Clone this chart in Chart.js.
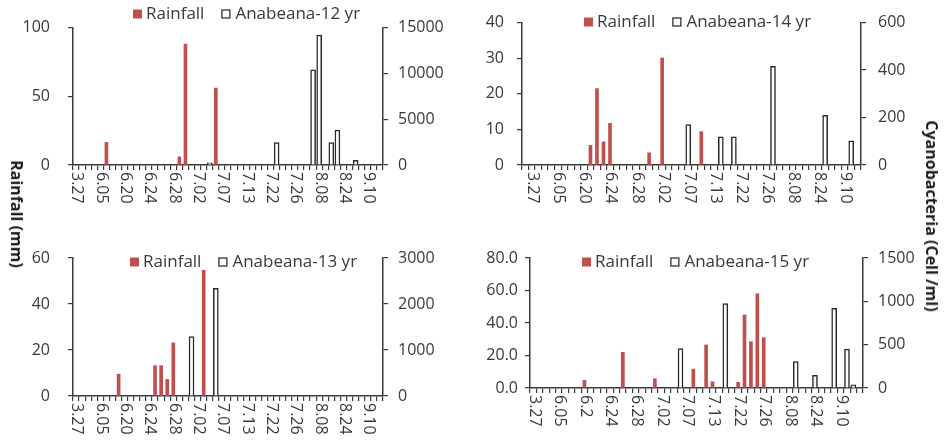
<!DOCTYPE html>
<html>
<head>
<meta charset="utf-8">
<script src="https://cdn.jsdelivr.net/npm/chart.js@4.4.0/dist/chart.umd.min.js"></script>
<style>
body { margin: 0; background: #fff; width: 946px; height: 443px; overflow: hidden; position: relative; font-family: "Open Sans", sans-serif; }
canvas { position: absolute; }
.ytitle { position: absolute; font-weight: bold; font-size: 16px; color: #1a1a1a; white-space: nowrap; transform: translate(-50%, -50%) rotate(90deg); }
</style>
</head>
<body>
<canvas id="c12" width="470" height="220" style="left:0;top:0"></canvas>
<canvas id="c14" width="476" height="220" style="left:470px;top:0"></canvas>
<canvas id="c13" width="470" height="223" style="left:0;top:220px"></canvas>
<canvas id="c15" width="476" height="223" style="left:470px;top:220px"></canvas>
<div class="ytitle" style="left:17px;top:214px">Rainfall (mm)</div>
<div class="ytitle" style="left:932px;top:216px">Cyanobacteria (Cell /ml)</div>
<script>
// date labels shown under the x axis (one every 4 sampling days)
var dateTicks = ['3.27', '6.05', '6.20', '6.24', '6.28', '7.02', '7.07', '7.13', '7.22', '7.26', '8.08', '8.24', '9.10'];
var dateTicks15 = ['3.27', '6.05', '6.2', '6.24', '6.28', '7.02', '7.07', '7.13', '7.22', '7.26', '8.08', '8.24', '9.10'];

// 2012 - day index on the axis, value
var rain12Day = [5, 17, 18, 23];
var rain12 = [16.5, 6, 88, 56];
var ana12Day = [22, 33, 39, 40, 42, 43, 46];
var ana12 = [230, 2440, 10380, 14170, 2440, 3820, 500];

// 2014
var rain14Day = [10, 11, 12, 13, 19, 21, 27];
var rain14 = [5.5, 21.5, 6.5, 11.7, 3.4, 30, 9.4];
var ana14Day = [12, 25, 30, 32, 38, 46, 50];
var ana14 = [4, 170, 119, 119, 416, 209, 102];

// 2013
var rain13Day = [7, 13, 14, 15, 16, 21];
var rain13 = [9.5, 13.2, 13.2, 7.2, 23.1, 54.7];
var ana13Day = [19, 23];
var ana13 = [1290, 2340];

// 2015
var rain15Day = [8, 14, 19, 25, 27, 28, 32, 33, 34, 35, 36];
var rain15 = [4.7, 22, 5.7, 11.6, 26.5, 3.8, 3.5, 45, 28.5, 58, 31];
var ana15Day = [23, 30, 41, 44, 47, 49, 50];
var ana15 = [455, 975, 305, 145, 918, 448, 38];

var axisColor = '#3a3a3a';
var tickColor = '#383840';
var red = '#c0504d';

function makeCats(n, first, ticks) {
    var cats = [];
    for (var i = 0; i < n; i++) cats.push('');
    ticks.forEach(function (t, k) { cats[first + 4 * k] = t; });
    return cats;
}

function spread(n, days, vals) {
    var out = [];
    for (var i = 0; i < n; i++) out.push(null);
    days.forEach(function (d, k) { out[d] = vals[k]; });
    return out;
}

// draws the rotated date labels and the small legend inside the plot
var extraPlugin = {
    id: 'extra',
    afterDraw: function (chart, args, opts) {
        var ctx = chart.ctx;
        var xs = chart.scales.x;
        var top = chart.chartArea.bottom + 7;
        ctx.save();
        ctx.font = '16px "Open Sans"';
        ctx.fillStyle = tickColor;
        ctx.textAlign = 'left';
        ctx.textBaseline = 'middle';
        chart.data.labels.forEach(function (lab, i) {
            if (!lab) return;
            ctx.save();
            ctx.translate(xs.getPixelForTick(i) + 1, top);
            ctx.rotate(Math.PI / 2);
            ctx.fillText(lab, 0, 0);
            ctx.restore();
        });

        // legend
        var ds = chart.data.datasets;
        var x = opts.lx, y = opts.ly;
        ctx.font = '17px "Open Sans"';
        ctx.fillStyle = red;
        ctx.fillRect(x, y - 4.5, 9, 9);
        ctx.fillStyle = tickColor;
        ctx.fillText(ds[0].label, x + 13, y);
        x += 13 + ctx.measureText(ds[0].label).width + 17;
        ctx.fillStyle = '#fff';
        ctx.strokeStyle = '#222';
        ctx.lineWidth = 1.2;
        ctx.fillRect(x, y - 4.5, 9, 9);
        ctx.strokeRect(x + 0.5, y - 4, 8, 8);
        ctx.fillStyle = tickColor;
        ctx.fillText(ds[1].label, x + 14, y);
        ctx.restore();
    }
};

function makeChart(id, cfg) {
    var n = cfg.cats.length;
    var tickFont = { family: 'Open Sans', size: 16 };
    return new Chart(document.getElementById(id), {
        type: 'bar',
        data: {
            labels: cfg.cats,
            datasets: [
                {
                    label: 'Rainfall',
                    data: spread(n, cfg.rainDay, cfg.rain),
                    backgroundColor: red,
                    barThickness: 3,
                    yAxisID: 'y',
                    order: 1
                },
                {
                    label: cfg.anaLabel,
                    data: spread(n, cfg.anaDay, cfg.ana),
                    backgroundColor: '#fff',
                    borderColor: '#2a2a2a',
                    borderWidth: 1.5,
                    barThickness: 5,
                    yAxisID: 'y1',
                    order: 2
                }
            ]
        },
        options: {
            responsive: false,
            animation: false,
            layout: { padding: { top: cfg.top, left: 0, right: 0, bottom: 0 } },
            datasets: { bar: { grouped: false } },
            plugins: {
                legend: { display: false },
                tooltip: { enabled: false },
                extra: { lx: cfg.lx, ly: cfg.ly }
            },
            scales: {
                x: {
                    offset: true,
                    grid: { offset: true, drawOnChartArea: false, tickLength: 5, color: axisColor, lineWidth: 1.2 },
                    border: { color: axisColor, width: 1.5 },
                    ticks: { display: false, autoSkip: false },
                    afterFit: function (s) { s.height = cfg.xh; }
                },
                y: {
                    position: 'left',
                    min: 0,
                    max: cfg.lmax,
                    grid: { drawOnChartArea: false, tickLength: 5, color: axisColor, lineWidth: 1.2 },
                    border: { color: axisColor, width: 1.5 },
                    ticks: {
                        stepSize: cfg.lstep,
                        padding: cfg.lpad,
                        color: tickColor,
                        font: tickFont,
                        callback: function (v) { return cfg.ldec ? v.toFixed(1) : v; }
                    },
                    afterFit: function (s) { s.width = cfg.lw; }
                },
                y1: {
                    position: 'right',
                    min: 0,
                    max: cfg.rmax,
                    grid: { drawOnChartArea: false, tickLength: 5, color: axisColor, lineWidth: 1.2 },
                    border: { color: axisColor, width: 1.5 },
                    ticks: {
                        stepSize: cfg.rstep,
                        padding: cfg.rpad,
                        color: tickColor,
                        font: tickFont,
                        callback: function (v) { return v; }
                    },
                    afterFit: function (s) { s.width = cfg.rw; }
                }
            }
        },
        plugins: [extraPlugin]
    });
}

makeChart('c12', {
    cats: makeCats(51, 0, dateTicks), anaLabel: 'Anabeana-12 yr',
    rainDay: rain12Day, rain: rain12, anaDay: ana12Day, ana: ana12,
    lmax: 100, lstep: 50, rmax: 15000, rstep: 5000,
    top: 16, xh: 55, lw: 73, rw: 87, lpad: 18, rpad: 10, lx: 133, ly: 14
});
makeChart('c14', {
    cats: makeCats(52, 1, dateTicks), anaLabel: 'Anabeana-14 yr',
    rainDay: rain14Day, rain: rain14, anaDay: ana14Day, ana: ana14,
    lmax: 40, lstep: 10, rmax: 600, rstep: 200,
    top: 18, xh: 55, lw: 52, rw: 85, lpad: 13, rpad: 12, lx: 114, ly: 22
});
makeChart('c13', {
    cats: makeCats(51, 0, dateTicks), anaLabel: 'Anabeana-13 yr',
    rainDay: rain13Day, rain: rain13, anaDay: ana13Day, ana: ana13,
    lmax: 60, lstep: 20, rmax: 3000, rstep: 1000,
    top: 38, xh: 47, lw: 73, rw: 87, lpad: 18, rpad: 10, lx: 130, ly: 42
});
makeChart('c15', {
    cats: makeCats(52, 0, dateTicks15), anaLabel: 'Anabeana-15 yr',
    rainDay: rain15Day, rain: rain15, anaDay: ana15Day, ana: ana15,
    lmax: 80, lstep: 20, ldec: true, rmax: 1500, rstep: 500,
    top: 38, xh: 55, lw: 60, rw: 83, lpad: 7, rpad: 10, lx: 112, ly: 42
});
</script>
</body>
</html>
